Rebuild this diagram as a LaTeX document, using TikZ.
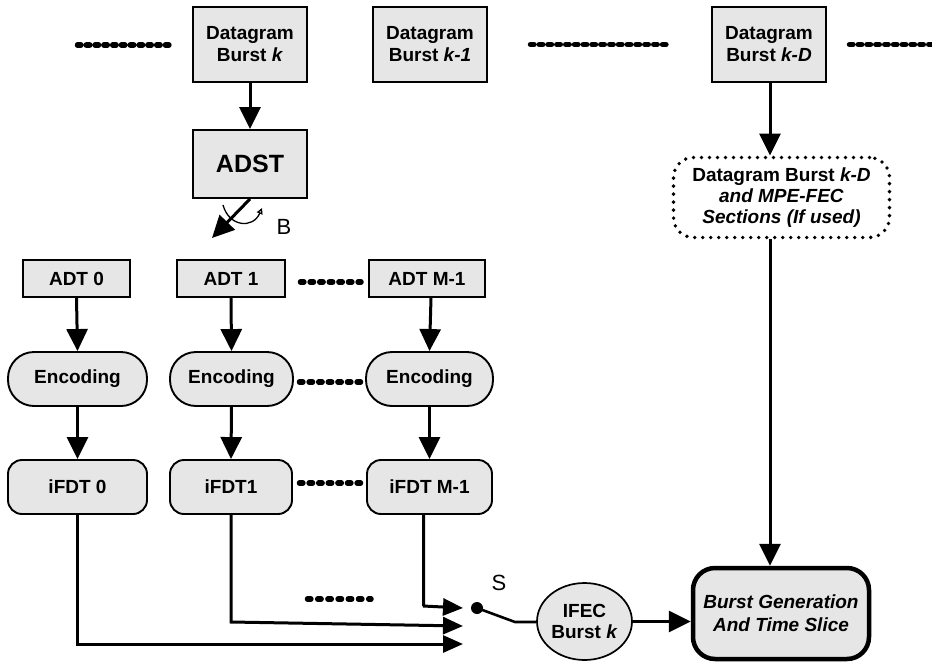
\documentclass[tikz,border=0pt]{standalone}
\usepackage{fontspec}
\setmainfont{Liberation Sans}
\usetikzlibrary{arrows.meta,shapes.geometric,calc}
\definecolor{boxgray}{HTML}{E6E6E6}
\begin{document}
\begin{tikzpicture}[x=1pt,y=-1pt,
  txt/.style={font=\fontsize{19}{22}\selectfont\bfseries, align=center},
  sqbox/.style={draw, line width=1.9pt, fill=boxgray, inner sep=0pt, txt},
  pill/.style={sqbox, rounded corners=26pt},
  rbox/.style={sqbox, rounded corners=14pt},
  conn/.style={line width=3pt, -{Triangle[length=22pt,width=21pt]}},
  inarrow/.style={line width=3pt, -{Triangle[length=20pt,width=17pt]}},
  wire/.style={line width=2.6pt},
  dotline/.style={line width=5.5pt, line cap=round, dash pattern=on 3.4pt off #1},
  dotline/.default=5.4pt,
  lbl/.style={font=\fontsize{22}{26}\selectfont},
]
\useasboundingbox (0,0) rectangle (932,662);

% datagram bursts on the time line
\node[sqbox, minimum width=114pt, minimum height=75pt] (dk)  at (250,44.5) {Datagram\\Burst \textit{k}};
\node[sqbox, minimum width=114pt, minimum height=75pt] (dk1) at (430,44.5) {Datagram\\Burst \textit{k-1}};
\node[sqbox, minimum width=114pt, minimum height=75pt] (dkD) at (769,44.5) {Datagram\\Burst \textit{k-D}};

\coordinate (tl0) at (77.5,45);   \coordinate (tl1) at (170,45);
\coordinate (tm0) at (530.5,44.5);  \coordinate (tm1) at (671,44.5);
\coordinate (tr0) at (849.5,44.5);  \coordinate (tr1) at (934,44.5);
\foreach \a/\b in {tl0/tl1, tm0/tm1, tr0/tr1}{
  \draw[dotline] (\a) -- (\b);
}

% splitter
\node[sqbox, minimum width=114pt, minimum height=68pt, font=\fontsize{25}{28}\selectfont\bfseries] (adst) at (250,164) {ADST};
\draw[conn] (dk.south) -- (adst.north);

\coordinate (bout) at (212,238);
\draw[conn] (adst.south) -- (bout);
\coordinate (rot0) at (223,205);
\coordinate (rot1) at (262,208);
\draw[line width=1.3pt, -{Triangle[open,length=6pt,width=6pt]}]
  (rot0) .. controls (229,227) and (253,229) .. (rot1);
\node[lbl] (blab) at (284,227) {B};

% ADT branches
\node[sqbox, minimum width=107pt, minimum height=37pt] (adt0) at (76.5,278.5) {ADT 0};
\node[sqbox, minimum width=108pt, minimum height=37pt] (adt1) at (231,278.5) {ADT 1};
\node[sqbox, minimum width=116pt, minimum height=37pt] (adtM) at (427,278.5) {ADT M-1};

\node[pill, minimum width=139pt, minimum height=54pt] (enc0) at (77.5,379) {Encoding};
\node[pill, minimum width=123pt, minimum height=54pt] (enc1) at (231.5,379) {Encoding};
\node[pill, minimum width=127pt, minimum height=54pt] (encM) at (429.5,379) {Encoding};

\node[rbox, minimum width=139pt, minimum height=54pt] (ifd0) at (77.5,487) {iFDT 0};
\node[rbox, minimum width=122pt, minimum height=54pt] (ifd1) at (231,487) {iFDT1};
\node[rbox, minimum width=125pt, minimum height=54pt] (ifdM) at (429.5,487) {iFDT M-1};

\foreach \a/\b in {adt0/enc0, adt1/enc1, enc0/ifd0, enc1/ifd1, encM/ifdM}{
  \draw[conn] (\a.south) -- (\b.north);
}
\draw[conn] ([xshift=4pt]adtM.south) -- (encM.north);

% elided branches
\coordinate (ra0) at (300.5,282); \coordinate (ra1) at (361,282);
\coordinate (re0) at (299.5,382); \coordinate (re1) at (362,382);
\coordinate (rf0) at (299.5,483); \coordinate (rf1) at (361,483);
\coordinate (rs0) at (307.5,599); \coordinate (rs1) at (371,599);
\foreach \a/\b in {ra0/ra1, re0/re1, rf0/rf1}{
  \draw[dotline=6.2pt] (\a) -- (\b);
}
\draw[dotline=6.8pt] (rs0) -- (rs1);

% selector switch
\coordinate (inM) at (463,608);
\coordinate (in1) at (463,626);
\coordinate (in0) at (463,644);
\node[circle, fill, inner sep=0pt, minimum size=12pt] (pivot) at (477,608) {};
\node[lbl] (slab) at (499,583) {S};
\draw[inarrow] ([xshift=-6pt]ifdM.south) |- (423,606) -- (inM);
\draw[inarrow] (ifd1.south) |- (231,622) -- (in1);
\draw[inarrow] (ifd0.south) |- (in0);

\node[ellipse, draw, line width=1.7pt, fill=boxgray, inner sep=0pt,
      minimum width=95pt, minimum height=77pt, txt, font=\fontsize{19}{21}\selectfont\bfseries] (ifec) at (584.5,621.5) {IFEC\\Burst \textit{k}};
\coordinate (sw) at (515,622);
\draw[wire] (pivot.center) -- (sw) -- (sw -| ifec.west);

% output side
\node[draw, line width=3.8pt, dash pattern=on 0pt off 8pt, line cap=round,
      rounded corners=20pt, minimum width=216pt, minimum height=80pt, inner sep=0pt,
      font=\fontsize{19}{21}\selectfont\bfseries, align=center] (sect) at (781.5,197.5)
      {Datagram Burst \textit{k-D}\\\textit{and MPE-FEC}\\\textit{Sections (If used)}};
\node[draw, line width=4.5pt, fill=boxgray, rounded corners=22pt, minimum width=176pt,
      minimum height=91pt, inner sep=0pt,
      font=\fontsize{19}{23}\selectfont\bfseries\itshape, align=center] (bgen) at (781,613.5)
      {Burst Generation\\And Time Slice};

\coordinate (kdOut) at (770,82);
\draw[conn] (kdOut) -- (kdOut |- sect.north);
\draw[conn] (kdOut |- sect.south) -- (kdOut |- bgen.north);
\draw[conn] (ifec.east) -- (ifec.east -| bgen.west);
\end{tikzpicture}
\end{document}
